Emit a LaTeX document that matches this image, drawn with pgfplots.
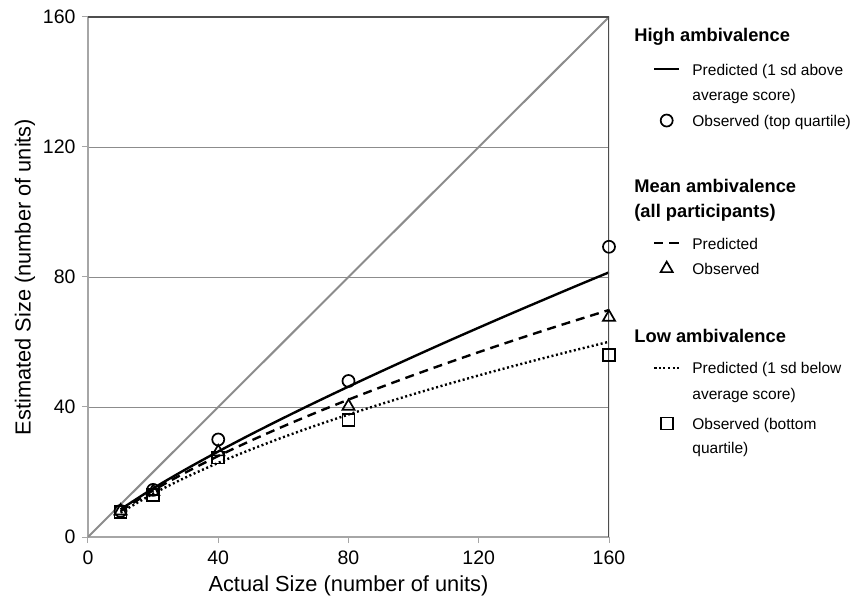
\documentclass[border=0pt]{standalone}
\usepackage{pgfplots}
\pgfplotsset{compat=1.18}
\usepackage{fontspec}
\setmainfont{Liberation Sans}

% strut: height above baseline, depth below (in bp)
\newcommand{\sr}[2]{\rule[-#2bp]{0pt}{\dimexpr #1bp + #2bp\relax}}
% group heading, pulled left of the key column
\newcommand{\hd}[1]{\hspace*{-58bp}{\fontsize{18.3bp}{20bp}\selectfont\bfseries #1}}

\definecolor{spine}{HTML}{A6A6A6}
\definecolor{gridc}{HTML}{8C8C8C}
\definecolor{boxc}{HTML}{4D4D4D}

\begin{document}
\begin{tikzpicture}
\begin{axis}[
    scale only axis,
    width=521bp, height=520bp,
    xmin=0, xmax=160, ymin=0, ymax=160,
    xtick={0,40,...,160}, ytick={0,40,...,160},
    axis x line*=bottom, axis y line*=left,
    axis line style={draw=spine, line width=1.2bp},
    tick align=outside, major tick length=6bp,
    tick style={draw=spine, line width=1bp},
    ymajorgrids, grid style={draw=gridc, line width=0.9bp},
    /pgf/number format/assume math mode=true,
    tick label style={font=\fontsize{19.5bp}{22bp}\selectfont},
    x tick label style={yshift=-4bp},
    y tick label style={xshift=-3bp},
    xlabel={Actual Size (number of units)},
    ylabel={Estimated Size (number of units)},
    xlabel style={at={(axis description cs:0.5,-0.0945)}, anchor=center,
        font=\fontsize{21.8bp}{24bp}\selectfont},
    ylabel style={at={(axis description cs:-0.121,0.5)}, anchor=center,
        font=\fontsize{21.8bp}{24bp}\selectfont},
    legend cell align=left,
    legend style={at={(1,1)}, anchor=north west, xshift=44bp, yshift=-9.7bp,
        draw=none, fill=none, inner sep=0pt, outer sep=0pt,
        row sep=7.5bp, column sep=12bp,
        nodes={inner sep=0pt, outer sep=0pt, text depth=},
        font=\fontsize{15.5bp}{18bp}\selectfont},
    legend image code/.code={\draw[mark repeat=2,mark phase=2,#1]
        plot coordinates {(0bp,0bp) (12.5bp,0bp) (25bp,0bp)};},
]

% identity line
\addplot[gridc, line width=2bp, forget plot] coordinates {(0,0) (160,160)};

\addlegendimage{empty legend}
\addlegendentry{\sr{15}{10.8}\hd{High ambivalence}}

\addplot[black, line width=2.4bp, smooth] coordinates {
    (10,8.5) (20,14.95) (30,20.81) (40,26.31) (50,31.56) (60,36.61)
    (70,41.51) (80,46.28) (90,50.94) (100,55.51) (110,60.01) (120,64.41)
    (130,68.76) (140,73.03) (150,77.27) (160,81.43)};
\addlegendentry{\sr{15}{3}Predicted (1 sd above}

\addlegendimage{empty legend}
\addlegendentry{\sr{15}{3}average score)}

\addplot[black, only marks, mark=o, mark size=6bp,
    mark options={solid, line width=1.7bp}] coordinates {
    (10,8) (20,14.5) (40,30) (80,48) (160,89.3)};
\addlegendentry{\sr{15}{3}Observed (top quartile)}

\addlegendimage{empty legend}
\addlegendentry{\sr{55.2}{3}\hd{Mean ambivalence}}
\addlegendimage{empty legend}
\addlegendentry{\sr{15}{8.8}\hd{(all participants)}}

\addplot[black, line width=2.4bp, dash pattern=on 9bp off 6bp, smooth] coordinates {
    (10,8) (20,14.31) (30,19.86) (40,24.92) (50,29.63) (60,34.05)
    (70,38.26) (80,42.27) (90,46.12) (100,49.83) (110,53.41) (120,56.88)
    (130,60.25) (140,63.54) (150,66.72) (160,69.84)};
\addlegendentry{\sr{15}{3}Predicted}

\addplot[black, only marks, mark=triangle, mark size=7bp,
    mark options={solid, line width=1.7bp}] coordinates {
    (10,8) (20,14) (40,26.2) (80,40.2) (160,67.6)};
\addlegendentry{\sr{15}{3}Observed}

\addlegendimage{empty legend}
\addlegendentry{\sr{57.2}{8.8}\hd{Low ambivalence}}

\addplot[black, line width=2.4bp, dash pattern=on 2bp off 2.6bp, smooth] coordinates {
    (10,7.5) (20,13.32) (30,18.32) (40,22.81) (50,26.91) (60,30.73)
    (70,34.31) (80,37.68) (90,40.9) (100,43.97) (110,46.9) (120,49.72)
    (130,52.43) (140,55.06) (150,57.6) (160,60.07)};
\addlegendentry{\sr{15}{3}Predicted (1 sd below}

\addlegendimage{empty legend}
\addlegendentry{\sr{15}{7.5}average score)}

\addplot[black, only marks, mark=square, mark size=6bp,
    mark options={solid, line width=1.7bp}] coordinates {
    (10,7.7) (20,12.9) (40,24.5) (80,36) (160,56)};
\addlegendentry{\sr{15}{3}Observed (bottom}

\addlegendimage{empty legend}
\addlegendentry{\sr{13.2}{3}quartile)}

% darker top and right frame
\draw[boxc, line width=1.2bp] (rel axis cs:0,1) -- (rel axis cs:1,1) -- (rel axis cs:1,0);
\coordinate (O) at (rel axis cs:0,0);
\end{axis}
\pgfresetboundingbox
\path ([shift={(-88bp,-62bp)}]O) rectangle ++(851bp,599bp);
\end{tikzpicture}
\end{document}
